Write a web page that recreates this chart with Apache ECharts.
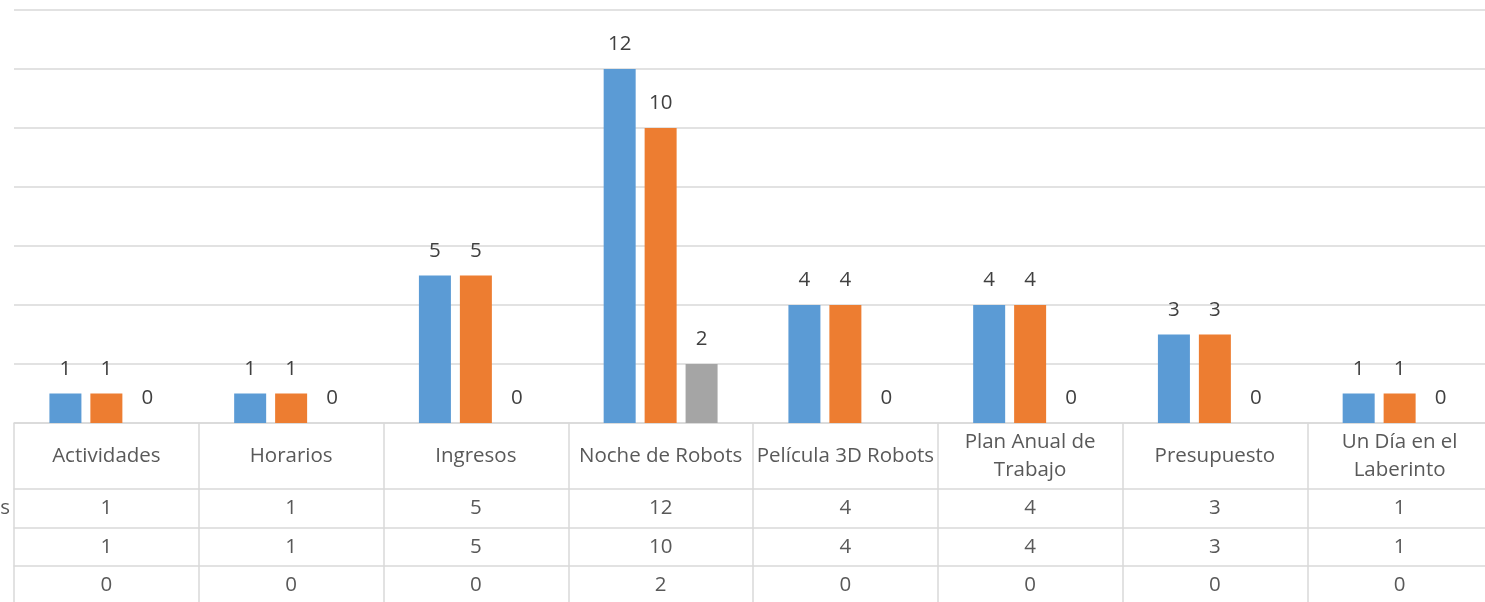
<!DOCTYPE html>
<html><head><meta charset="utf-8">
<script src="https://cdn.jsdelivr.net/npm/echarts@6/dist/echarts.min.js"></script>
<style>html,body{margin:0;padding:0;background:#fff}#c{width:1485px;height:602px}</style>
</head><body><div id="c"></div>
<script>
const categories = ['Actividades','Horarios','Ingresos','Noche de Robots','Película 3D Robots','Plan Anual de\nTrabajo','Presupuesto','Un Día en el\nLaberinto'];
const seriesNames = ['Solicitudes','Atendidas','Pendientes'];
const seriesA = [1,1,5,12,4,4,3,1];
const seriesB = [1,1,5,10,4,4,3,1];
const seriesC = [0,0,0,2,0,0,0,0];
const colors = ['#5B9BD5','#ED7D31','#A5A5A5'];

const FONT = '"Open Sans"';
const FS = 20.5;
const LINE = '#D9D9D9';
const LW = 1.5;
const L = 14, R = -7;

const allSeries = [seriesA, seriesB, seriesC];
const rows = [
  {top:423, height:66, labels:categories, name:null},
  {top:489, height:39, labels:seriesA.map(String), name:seriesNames[0], nameMargin:4},
  {top:528, height:38, labels:seriesB.map(String), name:seriesNames[1], nameMargin:40},
  {top:566, height:39, labels:seriesC.map(String), name:seriesNames[2], nameMargin:40}
];

const grids = [{left:L, right:R, top:10, height:413, containLabel:false, outerBoundsMode:'none'}];
const xAxes = [{
  type:'category', gridIndex:0, data:categories,
  axisLine:{show:true, lineStyle:{color:LINE, width:LW}},
  axisTick:{show:false}, axisLabel:{show:false}, splitLine:{show:false}
}];
const yAxes = [{
  type:'value', gridIndex:0, min:0, max:14, interval:2,
  axisLabel:{show:false}, axisLine:{show:false}, axisTick:{show:false},
  splitLine:{show:true, lineStyle:{color:LINE, width:LW}}
}];

rows.forEach((r, i) => {
  const gi = i + 1;
  grids.push({left:L, right:R, top:r.top, height:r.height, containLabel:false, outerBoundsMode:'none'});
  xAxes.push({
    type:'category', gridIndex:gi, data:r.labels, position:'bottom',
    axisLine:{show:true, lineStyle:{color:LINE, width:LW}},
    axisTick:{show:false},
    splitLine:{show:true, showMinLine:true, showMaxLine:true, lineStyle:{color:LINE, width:LW}},
    axisLabel:{show:true, inside:true, interval:0, margin:r.height/2, verticalAlign:'middle',
      color:'#595959', fontFamily:FONT, fontSize:FS, lineHeight:28, align:'center'}
  });
  yAxes.push({
    type:'category', gridIndex:gi, data:[r.name || ''],
    axisLine:{show:false}, axisTick:{show:false}, splitLine:{show:false},
    axisLabel:{show:!!r.name, margin:r.nameMargin || 0, align:'right',
      color:'#595959', fontFamily:FONT, fontSize:FS}
  });
});

const series = allSeries.map((d, i) => ({
  type:'bar', name:seriesNames[i], xAxisIndex:0, yAxisIndex:0, data:d,
  barWidth:32, barGap:'28%',
  itemStyle:{color:colors[i]},
  label:{show:true, position:'top', distance:14, color:'#404040', fontFamily:FONT, fontSize:FS},
  animation:false
}));

const chart = echarts.init(document.getElementById('c'), null, {renderer:'canvas'});
chart.setOption({
  animation:false,
  grid:grids, xAxis:xAxes, yAxis:yAxes, series:series
});
</script></body></html>
